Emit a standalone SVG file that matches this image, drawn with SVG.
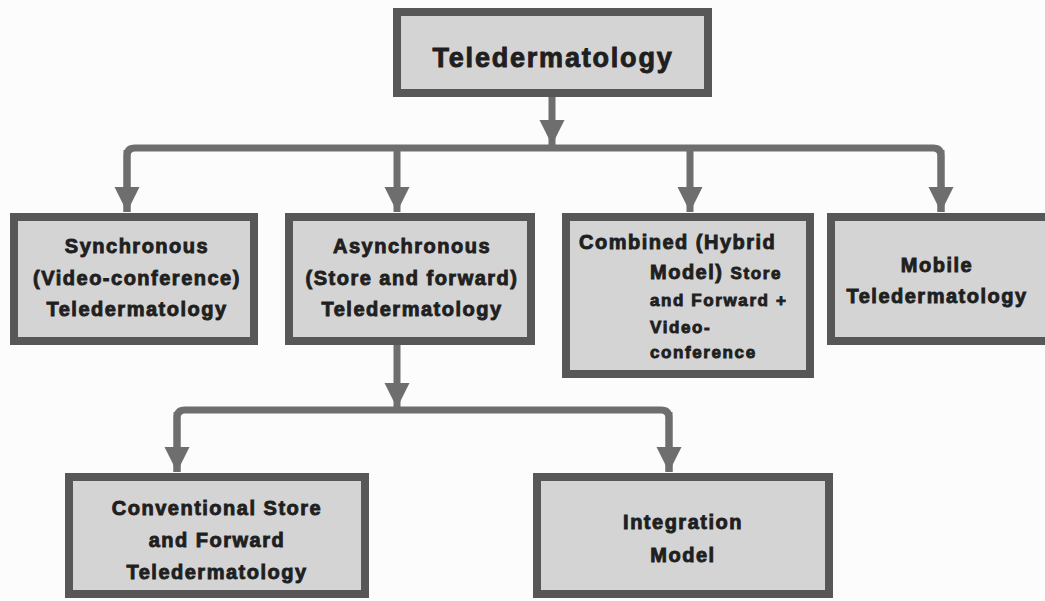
<svg xmlns="http://www.w3.org/2000/svg" width="1045" height="601" viewBox="0 0 1045 601">
  <defs>
    <style>
      .box { fill: #d4d4d4; stroke: #575757; stroke-width: 8; }
      .conn { fill: none; stroke: #6e6e6e; stroke-width: 7; stroke-linejoin: round; }
      .t { font-family: "Liberation Sans", Arial, sans-serif; font-weight: bold; fill: #1f1f1f; stroke: #1f1f1f; stroke-width: 0.9; }
      .c { text-anchor: middle; }
      .f27 { font-size: 27px; letter-spacing: 1.8px; }
      .f20 { font-size: 20px; letter-spacing: 1.5px; }
      .f17 { font-size: 17px; letter-spacing: 1.6px; }
    </style>
    <marker id="ah" viewBox="0 0 10 10" refX="10" refY="5" markerWidth="3.6" markerHeight="3.6" markerUnits="strokeWidth" orient="auto">
      <path d="M0,0 L10,5 L0,10 z" fill="#6e6e6e"/>
    </marker>
  </defs>
  <rect width="1045" height="601" fill="#fcfcfc"/>

  <g id="connectors">
    <path class="conn" d="M552,97 L552,145" marker-end="url(#ah)"/>
    <path class="conn" d="M127,212 L127,156 Q127,148 135,148 L933,148 Q941,148 941,156 L941,212"/>
    <path class="conn" d="M127,150 L127,212" marker-end="url(#ah)"/>
    <path class="conn" d="M397,148 L397,212" marker-end="url(#ah)"/>
    <path class="conn" d="M690,148 L690,212" marker-end="url(#ah)"/>
    <path class="conn" d="M941,150 L941,212" marker-end="url(#ah)"/>
    <path class="conn" d="M397,345 L397,408" marker-end="url(#ah)"/>
    <path class="conn" d="M177,472 L177,418 Q177,410 185,410 L661,410 Q669,410 669,418 L669,472"/>
    <path class="conn" d="M177,412 L177,472" marker-end="url(#ah)"/>
    <path class="conn" d="M669,412 L669,472" marker-end="url(#ah)"/>
  </g>

  <g id="teledermatology">
    <rect class="box" x="397" y="12" width="311" height="81"/>
    <text class="t c f27" x="553" y="67">Teledermatology</text>
  </g>

  <g id="synchronous">
    <rect class="box" x="14" y="217" width="240" height="124"/>
    <text class="t c f20" x="137" y="253">Synchronous</text>
    <text class="t c f20" x="137" y="285">(Video-conference)</text>
    <text class="t c f20" x="137" y="316">Teledermatology</text>
  </g>

  <g id="asynchronous">
    <rect class="box" x="289" y="217" width="242" height="124"/>
    <text class="t c f20" x="412" y="253">Asynchronous</text>
    <text class="t c f20" x="412" y="285">(Store and forward)</text>
    <text class="t c f20" x="412" y="316">Teledermatology</text>
  </g>

  <g id="combined">
    <rect class="box" x="566" y="217" width="244" height="157"/>
    <text class="t f20" x="579" y="249">Combined (Hybrid</text>
    <text class="t f20" x="650" y="279">Model) <tspan class="f17">Store</tspan></text>
    <text class="t f17" x="650" y="306">and Forward +</text>
    <text class="t f17" x="650" y="333">Video-</text>
    <text class="t f17" x="650" y="358">conference</text>
  </g>

  <g id="mobile">
    <rect class="box" x="831" y="217" width="230" height="124"/>
    <text class="t c f20" x="937" y="272">Mobile</text>
    <text class="t c f20" x="937" y="303">Teledermatology</text>
  </g>

  <g id="conventional">
    <rect class="box" x="69" y="477" width="296" height="117"/>
    <text class="t c f20" x="217" y="515">Conventional Store</text>
    <text class="t c f20" x="217" y="547">and Forward</text>
    <text class="t c f20" x="217" y="579">Teledermatology</text>
  </g>

  <g id="integration">
    <rect class="box" x="537" y="477" width="292" height="117"/>
    <text class="t c f20" x="683" y="529">Integration</text>
    <text class="t c f20" x="683" y="562">Model</text>
  </g>
</svg>
